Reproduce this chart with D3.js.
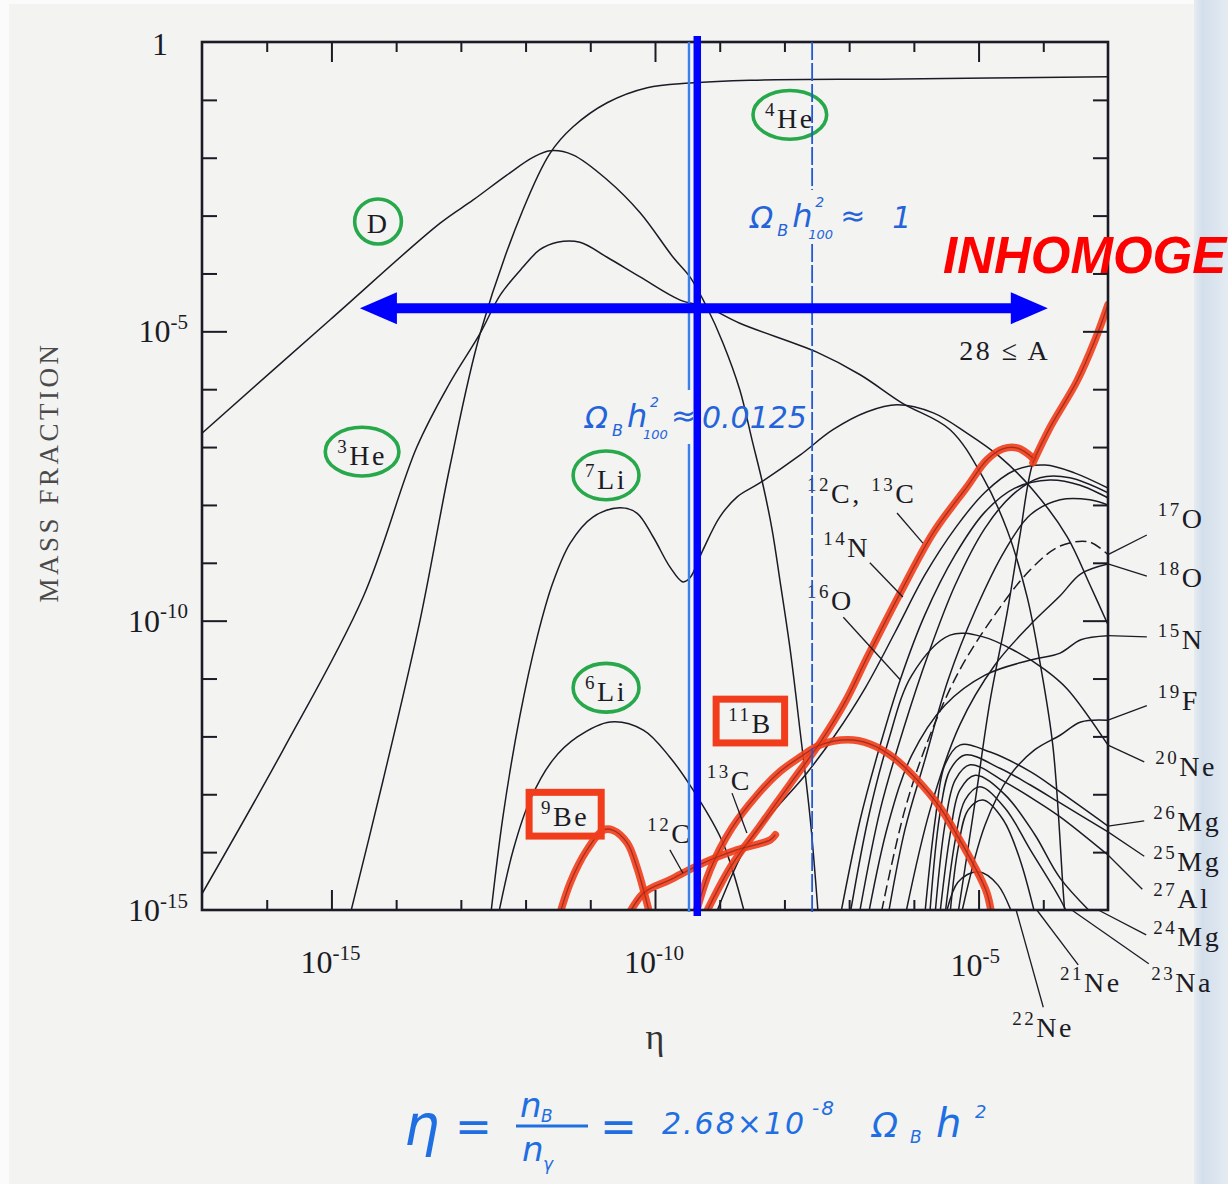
<!DOCTYPE html>
<html>
<head>
<meta charset="utf-8">
<title>Primordial mass fractions versus η</title>
<script src="https://cdn.jsdelivr.net/npm/d3@7/dist/d3.min.js"></script>
<style>
  html, body { margin: 0; padding: 0; background: #f3f3f1; }
  svg { display: block; }
</style>
</head>
<body>
<svg id="chart" width="1228" height="1184"></svg>
<script>
// Every track point is [log10 η, log10 mass fraction].
const deuterium = [[-17,-6.76],[-15.02,-4.80],[-13.32,-3.13],[-12.81,-2.73],[-12.29,-2.30],[-11.88,-1.99],[-11.62,-1.88],[-11.27,-1.95],[-10.74,-2.38],[-10.23,-2.95],[-9.72,-3.72],[-9.46,-4.06],[-9.20,-4.58],[-8.95,-5.20],[-8.69,-6.01],[-8.50,-6.88],[-8.33,-7.66],[-8.19,-8.43],[-8.07,-9.30],[-7.91,-10.51],[-7.76,-11.89],[-7.60,-13.44],[-7.47,-15.2]];
const helium4 = [[-14.76,-15.3],[-14.20,-12.75],[-13.63,-9.99],[-13.17,-7.34],[-12.70,-5.03],[-12.04,-2.90],[-11.62,-1.92],[-11.27,-1.47],[-10.74,-1.05],[-10.12,-0.79],[-9.46,-0.71],[-8.53,-0.66],[-6.21,-0.64],[-3.0,-0.60]];
const helium3 = [[-17,-14.72],[-15.75,-12.24],[-14.51,-9.59],[-13.68,-7.00],[-13.17,-5.89],[-12.70,-5.03],[-12.39,-4.37],[-12.04,-3.89],[-11.78,-3.59],[-11.51,-3.46],[-11.16,-3.46],[-10.74,-3.72],[-10.23,-4.06],[-9.61,-4.46],[-9.20,-4.58],[-8.69,-4.86],[-7.50,-5.36],[-6.83,-5.75],[-6.18,-6.24],[-5.44,-6.70],[-4.93,-7.53],[-4.56,-8.43],[-4.25,-9.59],[-4.05,-10.73],[-3.85,-12.18],[-3.69,-14.71],[-3.65,-15.3]];
const lithium7 = [[-12.56,-15.3],[-12.35,-13.39],[-12.09,-11.66],[-11.82,-10.28],[-11.58,-9.35],[-11.31,-8.66],[-10.96,-8.21],[-10.54,-8.05],[-10.28,-8.14],[-10.03,-8.55],[-9.77,-9.07],[-9.57,-9.33],[-9.46,-9.26],[-9.26,-8.78],[-9.00,-8.21],[-8.73,-7.86],[-8.38,-7.62],[-7.76,-7.14],[-7.25,-6.70],[-6.72,-6.39],[-6.26,-6.27],[-5.70,-6.41],[-5.18,-6.76],[-4.67,-7.17],[-4.16,-7.74],[-3.63,-8.55],[-3.28,-9.38],[-3.0,-10.07]];
const lithium6 = [[-12.46,-15.3],[-12.19,-13.96],[-11.93,-13.10],[-11.58,-12.41],[-11.20,-12.01],[-10.69,-11.75],[-10.18,-11.89],[-9.77,-12.36],[-9.41,-12.93],[-8.95,-13.84],[-8.56,-15.3]];
const beryllium9 = [[-11.53,-15.3],[-11.31,-14.53],[-11.05,-13.96],[-10.80,-13.62],[-10.65,-13.62],[-10.43,-13.84],[-10.28,-14.26],[-10.03,-15.3]];
const boron11 = [[-9.43,-15.3],[-9.15,-14.31],[-8.81,-13.58],[-8.42,-13.01],[-8.07,-12.61],[-7.76,-12.36],[-7.45,-12.15],[-7.02,-12.06],[-6.68,-12.13],[-6.32,-12.36],[-5.95,-12.75],[-5.60,-13.22],[-5.29,-13.79],[-5.09,-14.19],[-4.87,-14.71],[-4.77,-15.3]];
const carbon12 = [[-10.51,-15.3],[-10.18,-14.71],[-9.77,-14.48],[-9.26,-14.19],[-8.73,-13.96],[-8.22,-13.79],[-8.14,-13.70]];
const carbon12and13 = [[-9.32,-15.3],[-8.84,-14.27],[-8.38,-13.55],[-7.91,-12.82],[-7.45,-12.11],[-7.06,-11.40],[-6.72,-10.63],[-6.21,-9.52],[-5.70,-8.48],[-5.18,-7.69],[-4.87,-7.22],[-4.62,-7.03],[-4.39,-7.02],[-4.16,-7.19]];
const carbon13 = [[-9.14,-15.3],[-8.58,-13.88],[-8.15,-13.27],[-7.68,-12.67],[-7.22,-11.98],[-6.75,-11.16],[-6.29,-10.20],[-5.83,-9.21],[-5.36,-8.40],[-4.90,-7.78],[-4.44,-7.40],[-3.97,-7.31],[-3.51,-7.45],[-3.0,-7.71]];
const nitrogen14 = [[-6.88,-15.3],[-6.52,-13.27],[-6.14,-11.80],[-5.78,-10.59],[-5.36,-9.38],[-4.90,-8.40],[-4.48,-7.83],[-4.05,-7.53],[-3.59,-7.53],[-3.0,-7.79]];
const oxygen16 = [[-7.17,-15.3],[-6.83,-13.44],[-6.52,-12.15],[-6.21,-11.02],[-5.83,-9.90],[-5.36,-8.86],[-4.90,-8.12],[-4.44,-7.71],[-3.90,-7.57],[-3.43,-7.66],[-3.0,-7.88]];
const carbonBundle = [[-6.43,-15.3],[-6.14,-13.62],[-5.83,-12.41],[-5.47,-11.02],[-5.05,-9.82],[-4.59,-8.78],[-4.20,-8.17],[-3.74,-7.91],[-3.28,-7.91],[-3.0,-8.00]];
const massAbove28 = [[-5.35,-15.3],[-5.05,-13.10],[-4.82,-11.37],[-4.56,-9.87],[-4.36,-8.52],[-4.16,-7.27],[-3.90,-6.67],[-3.48,-5.86],[-3.20,-5.15],[-3.0,-4.54]];
const massAbove28Marked = [[-4.16,-7.27],[-3.90,-6.67],[-3.48,-5.86],[-3.20,-5.15],[-3.0,-4.54]];
const oxygen17 = [[-6.55,-15.3],[-6.14,-13.27],[-5.75,-11.98],[-5.29,-10.85],[-4.75,-9.90],[-4.20,-9.12],[-3.74,-8.71],[-3.29,-8.64],[-3.0,-8.86]];
const oxygen18 = [[-6.17,-15.3],[-5.75,-13.27],[-5.29,-11.80],[-4.75,-10.77],[-4.20,-10.07],[-3.74,-9.57],[-3.42,-9.19],[-3.0,-9.02]];
const nitrogen15 = [[-6.74,-15.3],[-6.40,-13.53],[-6.03,-12.32],[-5.52,-11.46],[-4.90,-10.94],[-4.20,-10.68],[-3.74,-10.56],[-3.42,-10.33],[-3.0,-10.26]];
const neon20 = [[-7.02,-15.3],[-6.71,-13.44],[-6.40,-12.10],[-6.03,-10.94],[-5.44,-10.25],[-4.93,-10.28],[-4.41,-10.54],[-3.97,-10.85],[-3.63,-11.18],[-3.0,-12.15]];
const fluorine19 = [[-5.31,-15.3],[-4.90,-13.53],[-4.51,-12.67],[-4.13,-12.23],[-3.74,-11.98],[-3.42,-11.75],[-3.0,-11.72]];
const magnesium26 = [[-5.85,-15.3],[-5.67,-13.44],[-5.52,-12.49],[-5.29,-12.15],[-4.82,-12.27],[-4.20,-12.61],[-3.74,-12.96],[-3.0,-13.55]];
const magnesium25 = [[-5.77,-15.3],[-5.60,-13.36],[-5.44,-12.58],[-5.21,-12.32],[-4.67,-12.55],[-4.20,-12.84],[-3.74,-13.15],[-3.0,-13.65]];
const aluminium27 = [[-5.69,-15.3],[-5.52,-13.53],[-5.36,-12.75],[-5.13,-12.49],[-4.59,-12.79],[-4.13,-13.10],[-3.74,-13.39],[-3.0,-14.05]];
const magnesium24 = [[-5.62,-15.3],[-5.44,-13.70],[-5.29,-12.93],[-5.05,-12.67],[-4.59,-13.01],[-4.13,-13.70],[-3.74,-14.45],[-3.12,-15.2]];
const sodium23 = [[-5.54,-15.3],[-5.36,-13.79],[-5.21,-13.10],[-4.98,-12.87],[-4.59,-13.24],[-4.20,-13.96],[-3.74,-14.81],[-3.53,-15.3]];
const neon21 = [[-5.46,-15.3],[-5.32,-13.96],[-5.16,-13.27],[-4.93,-13.10],[-4.62,-13.44],[-4.36,-14.13],[-4.08,-15.3]];
const neon22 = [[-5.55,-15.3],[-5.32,-14.52],[-5.01,-14.34],[-4.70,-14.57],[-4.40,-15.3]];

// Axis decades
const etaTickExponents = d3.range(-16, -3);
const massTickExponents = d3.range(-14, 0);
const etaLabelExponents = [-15, -10, -5];
const massLabelExponents = [0, -5, -10, -15];

// η = 2.68×10⁻⁸ Ω_B h², marked at these Ω_B h² values
const etaPerOmega = 2.68e-8;
const omegaMarks = ["0.0125", "1"];
const markedEta = 4.5e-10;
const inhomogeneousRange = [-14.56, -3.93];   // log10 η
const inhomogeneousLevel = -4.6;               // log10 mass fraction

const W = 1228, H = 1184;
const M = { left: 202, right: 1108, top: 42, bottom: 910 };
const x = d3.scaleLog().domain([1e-17, 1e-3]).range([M.left, M.right]);
const y = d3.scaleLog().domain([1e-15, 1]).range([M.bottom, M.top]);
const X = e => x(Math.pow(10, e));
const Y = l => y(Math.pow(10, l));

const ink = "#1b1b26";
const serif = "'Liberation Serif', 'Times New Roman', serif";
const handFont = "'DejaVu Sans', 'Noto Sans', sans-serif";
const handBlue = "#2463da";

const svg = d3.select("#chart");
const defs = svg.append("defs");
defs.append("clipPath").attr("id", "plotClip").append("rect")
  .attr("x", M.left).attr("y", M.top).attr("width", M.right - M.left).attr("height", M.bottom - M.top);
const edge = defs.append("linearGradient").attr("id", "edgeTint").attr("x1", 0).attr("x2", 1);
edge.append("stop").attr("offset", 0).attr("stop-color", "#e6ecf1");
edge.append("stop").attr("offset", 0.25).attr("stop-color", "#d3dfeb");
edge.append("stop").attr("offset", 1).attr("stop-color", "#e4ebf2");

// paper
svg.append("rect").attr("width", W).attr("height", H).attr("fill", "#f3f3f1");
svg.append("rect").attr("width", 9).attr("height", H).attr("fill", "#fbfbfb");
svg.append("rect").attr("width", W).attr("height", 4).attr("fill", "#fbfbfb");
svg.append("rect").attr("x", 1194).attr("width", W - 1194).attr("height", H).attr("fill", "url(#edgeTint)");

// ---- tracks ----
const tracks = [
  { pts: deuterium }, { pts: helium4 }, { pts: helium3 }, { pts: lithium7 }, { pts: lithium6 },
  { pts: beryllium9 }, { pts: boron11 }, { pts: carbon12 }, { pts: carbon12and13 }, { pts: carbon13 },
  { pts: nitrogen14 }, { pts: oxygen16 }, { pts: carbonBundle }, { pts: massAbove28 },
  { pts: oxygen17, dash: "11,5" }, { pts: oxygen18 }, { pts: nitrogen15 }, { pts: neon20 },
  { pts: fluorine19 }, { pts: magnesium26 }, { pts: magnesium25 }, { pts: aluminium27 },
  { pts: magnesium24 }, { pts: sodium23 }, { pts: neon21 }, { pts: neon22 }
];
const marked = [beryllium9, boron11, carbon12, carbon12and13, massAbove28Marked];

const line = d3.line().x(d => X(d[0])).y(d => Y(d[1])).curve(d3.curveCatmullRom.alpha(0.5));
const plotG = svg.append("g").attr("clip-path", "url(#plotClip)");
plotG.selectAll("path.track").data(tracks).join("path").attr("class", "track")
  .attr("d", d => line(d.pts)).attr("fill", "none").attr("stroke", ink)
  .attr("stroke-width", 1.5).attr("stroke-dasharray", d => d.dash || null);
plotG.selectAll("path.marker").data(marked).join("path").attr("class", "marker")
  .attr("d", d => line(d)).attr("fill", "none").attr("stroke", "#f13d1b")
  .attr("stroke-width", 7.5).attr("stroke-linecap", "round").attr("stroke-linejoin", "round")
  .attr("opacity", 0.9);
plotG.selectAll("path.markerCore").data(marked).join("path").attr("class", "markerCore")
  .attr("d", d => line(d)).attr("fill", "none").attr("stroke", ink)
  .attr("stroke-width", 1.1).attr("opacity", 0.3);

// ---- axes ----
const axesG = svg.append("g");
function ticks(gen, pos, values, size) {
  const g = axesG.append("g").attr("transform", pos)
    .call(gen.tickValues(values).tickSize(-size).tickFormat(""));
  g.select(".domain").remove();
  g.selectAll(".tick line").attr("stroke", ink).attr("stroke-width", 2);
}
const etaMinor = etaTickExponents.filter(e => !etaLabelExponents.includes(e)).map(e => 10 ** e);
const etaMajor = etaLabelExponents.map(e => 10 ** e);
const massMinor = massTickExponents.filter(e => !massLabelExponents.includes(e)).map(e => 10 ** e);
const massMajor = [-5, -10].map(e => 10 ** e);
ticks(d3.axisBottom(x), `translate(0,${M.bottom})`, etaMinor, 10);
ticks(d3.axisBottom(x), `translate(0,${M.bottom})`, etaMajor, 20);
ticks(d3.axisTop(x), `translate(0,${M.top})`, etaMinor, 10);
ticks(d3.axisTop(x), `translate(0,${M.top})`, etaMajor, 20);
ticks(d3.axisLeft(y), `translate(${M.left},0)`, massMinor, 15);
ticks(d3.axisLeft(y), `translate(${M.left},0)`, massMajor, 25);
ticks(d3.axisRight(y), `translate(${M.right},0)`, massMinor, 15);
ticks(d3.axisRight(y), `translate(${M.right},0)`, massMajor, 25);
axesG.append("rect").attr("x", M.left).attr("y", M.top)
  .attr("width", M.right - M.left).attr("height", M.bottom - M.top)
  .attr("fill", "none").attr("stroke", ink).attr("stroke-width", 2.6);

// text with superscripts: parts = [[text, "sup"|"sub"|undefined], ...]
function rich(g, px0, py0, parts, o) {
  const t = g.append("text").attr("x", px0).attr("y", py0)
    .attr("font-family", o.family || serif).attr("font-size", o.size)
    .attr("fill", o.fill || ink).attr("text-anchor", o.anchor || "start");
  if (o.spacing) t.attr("letter-spacing", o.spacing);
  let shift = 0;
  parts.forEach(([s, kind]) => {
    const target = kind === "sup" ? -o.size * 0.42 : kind === "sub" ? o.size * 0.25 : 0;
    const sp = t.append("tspan").attr("dy", target - shift).text(s);
    if (kind) sp.attr("font-size", o.supSize || o.size * 0.66);
    shift = target;
  });
  return t;
}

const textG = svg.append("g");
massLabelExponents.forEach(e => {
  if (e === 0) rich(textG, 168, Y(e) + 13, [["1"]], { size: 32, anchor: "end" });
  else rich(textG, 188, Y(e) + 11, [["10"], ["-" + (-e), "sup"]], { size: 32, supSize: 21, anchor: "end" });
});
etaLabelExponents.forEach(e => {
  rich(textG, X(e) - 31 + (e === -5 ? 3 : 0), 973 + (e === -5 ? 3 : 0), [["10"], ["-" + (-e), "sup"]],
    { size: 32, supSize: 21 });
});
textG.append("text").attr("transform", "translate(58,472) rotate(-90)")
  .attr("text-anchor", "middle").attr("font-family", serif).attr("font-size", 27)
  .attr("letter-spacing", 3.5).attr("fill", "#4a4a4a").text("MASS FRACTION");
textG.append("text").attr("x", 655).attr("y", 1049).attr("text-anchor", "middle")
  .attr("font-family", serif).attr("font-size", 36).attr("fill", "#333").text("η");

// ---- species labels ----
const labelStyle = { size: 28, supSize: 19, spacing: 2.5 };
const speciesLabels = [
  { parts: [["4", "sup"], ["He"]], at: [-8.30, -1.49], mark: "ring" },
  { parts: [["D"]], at: [-14.28, -3.30], mark: "ring", anchor: "middle" },
  { parts: [["3", "sup"], ["He"]], at: [-14.91, -7.31], mark: "ring" },
  { parts: [["7", "sup"], ["Li"]], at: [-11.08, -7.72], mark: "ring" },
  { parts: [["6", "sup"], ["Li"]], at: [-11.08, -11.39], mark: "ring" },
  { parts: [["11", "sup"], ["B"]], at: [-8.87, -11.94], mark: "box" },
  { parts: [["9", "sup"], ["Be"]], at: [-11.76, -13.55], mark: "box" },
  { parts: [["12", "sup"], ["C"]], at: [-10.12, -13.84] },
  { parts: [["13", "sup"], ["C"]], at: [-9.20, -12.93] },
  { parts: [["12", "sup"], ["C, "], ["13", "sup"], ["C"]], at: [-7.65, -7.97] },
  { parts: [["14", "sup"], ["N"]], at: [-7.40, -8.90] },
  { parts: [["16", "sup"], ["O"]], at: [-7.65, -9.82] },
  { parts: [["28  ≤  A"]], at: [-5.30, -5.50] },
  { parts: [["17", "sup"], ["O"]], at: [-2.23, -8.40] },
  { parts: [["18", "sup"], ["O"]], at: [-2.23, -9.42] },
  { parts: [["15", "sup"], ["N"]], at: [-2.23, -10.49] },
  { parts: [["19", "sup"], ["F"]], at: [-2.23, -11.54] },
  { parts: [["20", "sup"], ["Ne"]], at: [-2.27, -12.68] },
  { parts: [["26", "sup"], ["Mg"]], at: [-2.30, -13.63] },
  { parts: [["25", "sup"], ["Mg"]], at: [-2.30, -14.33] },
  { parts: [["27", "sup"], ["Al"]], at: [-2.30, -14.96] },
  { parts: [["24", "sup"], ["Mg"]], at: [-2.30, -15.62] },
  { parts: [["21", "sup"], ["Ne"]], at: [-3.74, -16.42] },
  { parts: [["23", "sup"], ["Na"]], at: [-2.33, -16.42] },
  { parts: [["22", "sup"], ["Ne"]], at: [-4.48, -17.19] }
];
const leaders = [
  [[-9.77, -13.96], [-9.57, -14.36]], [[-8.81, -12.98], [-8.58, -13.67]],
  [[-6.26, -8.14], [-5.86, -8.66]], [[-6.68, -9.00], [-6.17, -9.59]], [[-7.09, -9.94], [-6.21, -11.02]],
  [[-3.0, -8.86], [-2.40, -8.52]], [[-3.0, -9.02], [-2.40, -9.23]], [[-3.0, -10.26], [-2.40, -10.28]],
  [[-3.0, -11.72], [-2.40, -11.47]], [[-3.0, -12.15], [-2.44, -12.44]], [[-3.0, -13.55], [-2.44, -13.46]],
  [[-3.0, -13.65], [-2.44, -14.07]], [[-3.0, -14.05], [-2.47, -14.64]], [[-3.15, -15.0], [-2.41, -15.43]],
  [[-3.56, -15.0], [-2.37, -15.93]], [[-4.10, -15.0], [-3.46, -15.95]], [[-4.42, -15.0], [-4.00, -16.68]]
];
svg.append("g").selectAll("line").data(leaders).join("line")
  .attr("x1", d => X(d[0][0])).attr("y1", d => Y(d[0][1]))
  .attr("x2", d => X(d[1][0])).attr("y2", d => Y(d[1][1]))
  .attr("stroke", ink).attr("stroke-width", 1.3);

const markG = svg.append("g");
const labelG = svg.append("g");
speciesLabels.forEach(s => {
  const t = rich(labelG, X(s.at[0]), Y(s.at[1]), s.parts, Object.assign({ anchor: s.anchor }, labelStyle));
  if (!s.mark) return;
  const b = t.node().getBBox();
  if (s.mark === "ring") {
    markG.append("ellipse").attr("cx", b.x + b.width / 2).attr("cy", b.y + b.height / 2 - 2)
      .attr("rx", b.width / 2 + 12).attr("ry", b.height / 2 + 7)
      .attr("fill", "none").attr("stroke", "#27a84a").attr("stroke-width", 3.6);
  } else {
    markG.append("rect").attr("x", b.x - 12).attr("y", b.y - 5)
      .attr("width", b.width + 24).attr("height", b.height + 9)
      .attr("fill", "none").attr("stroke", "#f13d1b").attr("stroke-width", 7);
  }
});

// ---- blue annotations ----
const noteG = svg.append("g");
function handNote(bx, by, value, approxDx, valueDx) {
  const g = noteG.append("g").attr("fill", handBlue).attr("font-family", handFont).attr("font-style", "italic");
  const put = (dx, dy, s, size) => g.append("text").attr("x", bx + dx).attr("y", by + dy).attr("font-size", size).text(s);
  put(0, 0, "Ω", 30); put(27, 8, "B", 16); put(42, -1, "h", 32);
  put(65, -21, "2", 14); put(58, 11, "100", 13);
  put(approxDx, -2, "≈", 30); put(valueDx, 0, value, 30);
  return g.node().getBBox();
}
omegaMarks.forEach(v => {
  const lx = x(etaPerOmega * +v);
  const small = v !== "1";
  const bb = small ? handNote(lx - 104, 428, v, 86, 117) : handNote(lx - 62, 228, v, 90, 142);
  const gap = [bb.y - 4, bb.y + bb.height + 2];
  [[M.top, gap[0]], [gap[1], M.bottom + 2]].forEach(([a, b]) => {
    noteG.append("line").attr("x1", lx).attr("x2", lx).attr("y1", a).attr("y2", b)
      .attr("stroke", small ? "#3b80ea" : "#2459d6").attr("stroke-width", small ? 2.4 : 1.8)
      .attr("stroke-dasharray", small ? null : "18,3");
  });
});
noteG.append("line").attr("x1", x(markedEta)).attr("x2", x(markedEta))
  .attr("y1", M.top - 6).attr("y2", M.bottom + 6).attr("stroke", "#0000ff").attr("stroke-width", 7.5);

const ax0 = X(inhomogeneousRange[0]), ax1 = X(inhomogeneousRange[1]), ay = Y(inhomogeneousLevel);
noteG.append("line").attr("x1", ax0 + 30).attr("x2", ax1 - 30).attr("y1", ay).attr("y2", ay)
  .attr("stroke", "#0000ff").attr("stroke-width", 10);
noteG.append("path").attr("fill", "#0000ff")
  .attr("d", `M${ax0},${ay} L${ax0 + 37},${ay - 16} L${ax0 + 37},${ay + 16} Z M${ax1},${ay} L${ax1 - 37},${ay - 16} L${ax1 - 37},${ay + 16} Z`);

svg.append("text").attr("x", X(-5.55)).attr("y", Y(-3.99))
  .attr("font-family", "'Liberation Sans', Arial, sans-serif").attr("font-weight", "bold")
  .attr("font-style", "italic").attr("font-size", 51).attr("fill", "#ff0000").text("INHOMOGE");

// ---- η definition ----
const f = svg.append("g").attr("fill", "#1f6fe2").attr("font-family", handFont).attr("font-style", "italic");
const fput = (px0, py0, s, size, spacing) => {
  const t = f.append("text").attr("x", px0).attr("y", py0).attr("font-size", size).text(s);
  if (spacing) t.attr("letter-spacing", spacing);
  return t;
};
fput(404, 1145, "η", 56);
fput(455, 1142, "=", 44);
fput(520, 1117, "n", 34); fput(541, 1122, "B", 17);
f.append("line").attr("x1", 516).attr("x2", 588).attr("y1", 1126).attr("y2", 1126)
  .attr("stroke", "#1f6fe2").attr("stroke-width", 3);
fput(522, 1161, "n", 34); fput(543, 1170, "γ", 17);
fput(600, 1142, "=", 44);
fput(662, 1134, "2.68×10", 30, 2);
fput(812, 1115, "-8", 20, 2);
fput(872, 1137, "Ω", 34); fput(910, 1143, "B", 17);
fput(936, 1137, "h", 40);
fput(975, 1118, "2", 18);
</script>
</body>
</html>
